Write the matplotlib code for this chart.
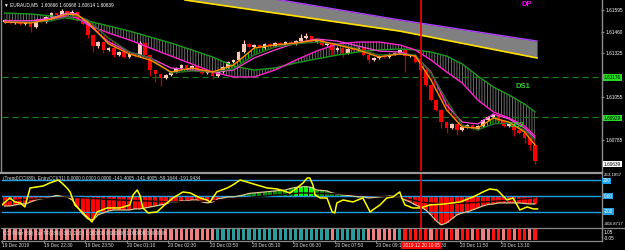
import numpy as np
import matplotlib
matplotlib.use('Agg')
import matplotlib.pyplot as plt
from matplotlib.lines import Line2D
import matplotlib.transforms as mtrans

plt.rcParams['font.family'] = ['Liberation Sans', 'DejaVu Sans']
plt.rcParams['hatch.linewidth'] = 0.6

# ---------------- data (prices in 1e-5 above 1.60000) ----------------
open_pts = [1520,1533,1514,1527,1508,1520,1489,1533,1520,1551,
            1576,1564,1589,1570,1582,1533,1508,1440,1371,1396,
            1347,1359,1315,1334,1303,1322,1309,1390,1315,1222,
            1197,1173,1191,1210,1235,1253,1235,1247,1222,1204,
            1216,1185,1210,1241,1272,1284,1334,1384,1365,1378,
            1359,1384,1371,1390,1384,1396,1384,1402,1421,1433,
            1396,1409,1378,1390,1347,1359,1328,1353,1347,1359,
            1315,1284,1297,1309,1303,1322,1328,1347,1309,1315,
            1272,1222,1129,1036,974,899,862,887,850,868,
            881,856,875,912,930,943,906,875,887,850,
            831,800,757]
close_pts = [1533,1514,1527,1508,1520,1489,1533,1520,1551,1576,
             1564,1589,1570,1582,1533,1508,1440,1371,1396,1347,
             1359,1315,1334,1303,1322,1309,1390,1315,1222,1197,
             1173,1191,1210,1235,1253,1235,1247,1222,1204,1216,
             1185,1210,1241,1272,1284,1334,1384,1365,1378,1359,
             1384,1371,1390,1384,1396,1384,1402,1421,1433,1396,
             1409,1378,1390,1347,1359,1328,1353,1347,1359,1315,
             1284,1297,1309,1303,1322,1328,1347,1309,1315,1272,
             1222,1129,1036,974,899,862,887,850,868,881,
             856,875,912,930,943,906,875,887,850,831,
             800,757,655]
high_pts = [1541,1540,1535,1534,1528,1526,1541,1540,1558,1583,
            1582,1601,1596,1595,1588,1540,1515,1446,1404,1402,
            1366,1365,1341,1340,1330,1328,1402,1396,1322,1229,
            1204,1198,1217,1242,1261,1259,1254,1253,1229,1223,
            1222,1217,1248,1279,1291,1341,1409,1391,1385,1384,
            1391,1390,1397,1396,1403,1402,1409,1446,1452,1439,
            1416,1415,1397,1396,1366,1365,1360,1359,1366,1365,
            1321,1304,1316,1315,1329,1335,1354,1353,1322,1321,
            1279,1228,1136,1043,981,906,894,893,875,888,
            887,882,919,937,950,949,913,894,893,857,
            838,806,763]
low_pts = [1512,1506,1507,1499,1500,1458,1482,1512,1513,1544,
           1556,1557,1562,1563,1525,1499,1421,1334,1362,1328,
           1340,1303,1308,1295,1296,1300,1302,1307,1185,1148,
           1123,1165,1183,1202,1228,1227,1228,1214,1196,1197,
           1166,1178,1202,1233,1264,1277,1327,1357,1358,1351,
           1352,1363,1364,1376,1377,1376,1377,1395,1414,1388,
           1389,1370,1371,1315,1340,1303,1321,1339,1340,1307,
           1266,1277,1290,1295,1296,1314,1321,1210,1301,1264,
           1214,1120,1027,965,862,831,855,819,842,860,
           848,849,867,905,922,898,867,868,812,823,
           769,726,639]

# indicator lines on the price chart (sampled at these bar indices)
line_x = [0,5,9,12,14,16,20,24,28,32,36,40,44,48,52,56,60,64,68,72,76,79,82,85,88,91,94,97,100,102]
slow_green = [1576,1570,1558,1545,1533,1527,1496,1464,1427,1390,1347,1303,1247,1222,1235,1266,1291,1315,1334,1347,1353,1347,1334,1309,1260,1185,1117,1067,1011,962]
slow_magenta = [1527,1527,1539,1558,1545,1502,1452,1409,1359,1309,1260,1210,1179,1179,1222,1284,1340,1384,1396,1396,1378,1347,1284,1210,1142,1036,962,924,875,812]
mid_magenta = [1527,1527,1545,1576,1570,1508,1396,1334,1297,1235,1222,1210,1222,1297,1347,1390,1415,1402,1371,1340,1334,1309,1210,1005,899,887,949,918,862,800]
fast_orange = [1520,1514,1539,1570,1564,1520,1384,1322,1284,1210,1235,1210,1253,1359,1378,1390,1409,1378,1347,1303,1322,1309,1160,974,868,862,924,899,837,757]
fast_green = [1520,1520,1527,1551,1558,1533,1421,1334,1297,1204,1216,1210,1229,1315,1365,1384,1396,1384,1353,1315,1322,1315,1204,1036,881,850,887,893,850,788]

band_x = [34.7, 76.0, 102.4]
band_top = [1756, 1533, 1402]
band_bottom = [1657, 1464, 1297]

level_ds1 = 1.61176
level_ds2 = 1.60929
bid_price = 1.60639
crosshair_bar = 80.1

# CCI indicator
cci_hist = [-129,-129,-116,-104,-104,-79,-54,-41,-29,-16,
            3,-10,-16,-54,-141,-229,-291,-304,-241,-216,
            -191,-179,-179,-179,-179,-166,-166,-154,-141,-129,
            -116,-104,-79,-79,-66,-66,-54,-54,-79,-91,
            -79,-41,-29,-16,-16,-4,9,28,34,40,
            46,53,59,65,71,90,103,109,113,103,
            71,65,59,34,21,9,3,-4,-16,-16,
            -29,-23,-16,-10,-4,-10,-16,-54,-79,-116,
            -141,-179,-241,-316,-366,-341,-291,-241,-216,-204,
            -179,-154,-129,-110,-104,-91,-91,-91,-91,-91,
            -98,-104,-104]
entry_x = [-0.5,0.1,1.0,2.0,3.0,3.9,4.9,7.4,8.7,10.3,11.0,12.0,12.6,13.5,14.9,16.8,17.8,19.7,22.2,24.1,
           24.7,25.5,26.0,26.6,27.6,29.3,31.2,32.4,34.3,35.7,37.6,38.9,39.5,40.8,42.8,43.9,45.3,46.6,48.5,50.5,
           52.4,54.3,54.9,56.2,57.4,58.2,58.7,59.3,59.7,60.7,62.0,63.0,63.5,63.9,65.1,67.0,68.9,70.3,70.8,72.2,
           73.5,74.7,76.0,76.4,77.0,78.5,79.9,81.8,84.7,87.6,90.1,92.0,93.3,94.7,95.3,96.6,97.8,99.1,100.5,101.7,102.5]
entry_cci = [-116,-79,-29,-79,-91,-141,96,121,159,196,159,96,46,-116,-204,-329,-204,-154,-154,-116,
             9,71,9,-154,-216,-204,-91,-29,46,34,-29,-54,-79,46,96,134,196,171,134,96,
             84,46,34,96,159,221,221,134,9,-29,-29,-204,-216,-91,-54,-79,-29,-204,-179,-116,
             -29,-16,46,-29,-116,-154,-154,-116,-104,-79,-16,46,84,71,34,-54,-29,-179,-141,-166,-166]
signal_x = [0,12,22,32,40,48,57,65,72,76,80,84,89,95,102]
signal_cci = [-66,-16,-54,-79,-66,-16,34,21,-4,-16,-79,-104,-91,-66,-29]
cci_levels = [200, 0, -200]

# CCI filter strip: 0 = salmon, 1 = teal, 2 = red
filter_state = [0]*41 + [1]*22 + [0] + [1]*6 + [0]*6 + [1] + [2]*4 + \
               [2,0,2,2,0,2,0,2,2,0,2,0,0,2,2,0,2,0,2,2,0,2]

time_labels = ["19 Dec 2019", "19 Dec 22:30", "19 Dec 23:50", "20 Dec 01:10", "20 Dec 02:30",
               "20 Dec 03:50", "20 Dec 05:10", "20 Dec 06:30", "20 Dec 07:50", "20 Dec 09:10",
               "20 Dec 10:30", "20 Dec 11:50", "20 Dec 13:10"]
time_label_bars = [0, 8, 16, 24, 32, 40, 48, 56, 64, 72, 80, 88, 96]
price_ticks = [1.61595, 1.61460, 1.61325, 1.61055, 1.60785]


def to_price(v):
    return 1.6 + np.asarray(v, dtype=float) * 1e-5


W, H = 625, 250
fig = plt.figure(figsize=(W / 100, H / 100), dpi=100, facecolor='black')
FS = 3.4
GRAY = '#8a8a8a'


def add_ax(x0, y0, x1, y1):
    a = fig.add_axes([x0 / W, 1 - y1 / H, (x1 - x0) / W, (y1 - y0) / H])
    a.set_facecolor('black')
    for s in a.spines.values():
        s.set_visible(False)
    a.set_xticks([])
    a.set_yticks([])
    return a


def ftext(x, y, s, **kw):
    kw.setdefault('fontsize', FS)
    kw.setdefault('color', 'white')
    kw.setdefault('va', 'center')
    kw.setdefault('ha', 'left')
    return fig.text(x / W, 1 - y / H, s, **kw)


XL = (-0.5, 114.7)

# ---------------- main price panel ----------------
ax = add_ax(2, 0, 601, 171)
ax.set_xlim(XL)
ax.set_ylim(1.60595, 1.61657)

lx = np.array(line_x, dtype=float)
sg, sm = to_price(slow_green), to_price(slow_magenta)
fo, fg = to_price(fast_orange), to_price(fast_green)

# DP band
bx = np.array(band_x)
ax.fill_between(bx, to_price(band_bottom), to_price(band_top), color='#808080', lw=0, zorder=1)
ax.plot(bx, to_price(band_top), color='#b040ff', lw=1.0, zorder=2)
ax.plot(bx, to_price(band_bottom), color='#ffe000', lw=1.2, zorder=2)

# hatched cloud
ax.fill_between(lx, sg, sm, facecolor='none', edgecolor='#7c7c7c', hatch='||||||', lw=0, zorder=1)
ax.fill_between(lx, fo, fg, where=fo >= fg, interpolate=True, facecolor='none',
                edgecolor='#00ff00', hatch='||||||', lw=0, zorder=1.5)
ax.fill_between(lx, fo, fg, where=fo < fg, interpolate=True, facecolor='none',
                edgecolor='#ff0000', hatch='||||||', lw=0, zorder=1.5)

# dashed levels
for lv in (level_ds1, level_ds2):
    ax.axhline(lv, color='#1d7a1d', lw=0.9, ls=(0, (5, 3)), zorder=1)

# candles
idx = np.arange(len(close_pts))
o, c = to_price(open_pts), to_price(close_pts)
hi, lo = to_price(high_pts), to_price(low_pts)
bull = c > o
BULL, BEAR = '#ffcbb8', '#ff0000'
ax.vlines(idx[bull], lo[bull], hi[bull], color=BULL, lw=0.9, zorder=3)
ax.vlines(idx[~bull], lo[~bull], hi[~bull], color='#c80000', lw=0.9, zorder=3)
ax.bar(idx, np.maximum(np.abs(c - o), 4e-5), bottom=np.minimum(o, c), width=0.72,
       color=np.where(bull, BULL, BEAR), lw=0, zorder=4)

# MA lines
ax.plot(lx, sg, color='#1a9a1a', lw=1.0, zorder=5)
ax.plot(lx, sm, color='#ff22cc', lw=1.0, zorder=5)
ax.plot(lx, to_price(mid_magenta), color='#ff44dd', lw=0.9, zorder=5)
ax.plot(lx, fg, color='#2e6b2e', lw=1.0, zorder=5)
ax.plot(lx, fo, color='#ff8c00', lw=1.0, zorder=5)

ax.axvline(crosshair_bar, color='#ff0000', lw=1.2, zorder=6)

# right axis
ax.yaxis.tick_right()
ax.set_yticks(price_ticks)
ax.set_yticklabels([f"{t:.5f}" for t in price_ticks])
ax.tick_params(axis='y', length=2, color=GRAY, labelcolor='white', labelsize=FS, pad=1.5)

ax.text(0.004, 0.985, "\u25bc EURAUD,M5  1.60666 1.60668 1.60614 1.60639", transform=ax.transAxes,
        color='white', fontsize=FS, va='top', ha='left')
ax.text(100.5, 1.61626, "DP", color='#ff00ff', fontsize=5.5, fontweight='bold', ha='center', va='center', zorder=7)
ax.text(99.6, 1.61120, "DS1", color='#33cc33', fontsize=5.5, fontweight='bold', ha='center', va='center', zorder=7)
ax.text(98.6, 1.60880, "DS2", color='#33cc33', fontsize=5.5, fontweight='bold', ha='center', va='center', zorder=7)

# right-side price boxes
ftext(604, 77.5, f"{level_ds1:.5f}", color='black',
      bbox=dict(boxstyle='square,pad=0.15', fc='#22dd22', ec='none'), zorder=10)
ftext(604, 118.2, f"{level_ds2:.5f}", color='black',
      bbox=dict(boxstyle='square,pad=0.15', fc='#22dd22', ec='none'), zorder=10)
ftext(604, 164, f"{bid_price:.5f}", color='black',
      bbox=dict(boxstyle='square,pad=0.15', fc='white', ec='none'), zorder=10)

# ---------------- CCI panel ----------------
ax2 = add_ax(2, 174, 601, 228)
ax2.set_xlim(XL)
ax2.set_ylim(-404.87, 271)
hv = np.array(cci_hist)
hcol = np.where(hv >= 100, '#00ff00', np.where(hv >= 0, '#008a00', '#ff0000'))
ax2.bar(idx, hv, width=0.8, color=hcol, lw=0, zorder=1)
ax2.plot(idx, hv, color='#d8c890', lw=0.9, zorder=3)
for lv in cci_levels:
    ax2.axhline(lv, color='#1ea0e6', lw=1.0, zorder=2)
ax2.plot(signal_x, signal_cci, color='#1a0000', lw=1.0, zorder=3)
ax2.plot(entry_x, entry_cci, color='#ffff00', lw=1.1, zorder=4)
ax2.axvline(crosshair_bar, color='#ff0000', lw=1.2, zorder=6)

ftext(3, 178.5, "(Trend)CCI(89), EntryCCI(31) 0.0000 0.0000 0.0000 -141.4005 -141.4005 -59.1644 -191.9434",
      color='#d8d8d8', zorder=10)
ftext(604, 175.3, "263.1857", fontsize=3.2, zorder=10)
ftext(603, 181, "200", color='white', bbox=dict(boxstyle='square,pad=0.12', fc='#1ea0e6', ec='none'), zorder=11)
ftext(604, 196, "0.00", color='white', bbox=dict(boxstyle='square,pad=0.12', fc='#1ea0e6', ec='none'), zorder=11)
ftext(604, 211.5, "-200", color='white', bbox=dict(boxstyle='square,pad=0.12', fc='#1ea0e6', ec='none'), zorder=11)
ftext(604, 224, "-404.8717", fontsize=3.2, zorder=10)

# ---------------- filter strip ----------------
ax3 = add_ax(2, 229, 601, 240)
ax3.set_xlim(XL)
ax3.set_ylim(-0.05, 1.05)
fcolors = ['#f08080', '#2a9c9c', '#ff1414']
ax3.bar(idx, 1.1, bottom=-0.05, width=0.6, color=[fcolors[k] for k in filter_state], lw=0, zorder=1)
ax3.axvline(crosshair_bar, color='#ff0000', lw=1.2, zorder=2)
ftext(3, 233, "CCI Filter (89) Cur TF(288) -300, 200 | 1.000000 0.000000 1.000000 0.000000",
      color='#e0e0e0', zorder=10)
ftext(604, 232, "1.05", zorder=10)
ftext(604, 239, "-0.05", zorder=10)

# time axis
tx = [b - 0.5 for b in time_label_bars]
ax3.set_xticks(tx)
ax3.set_xticklabels([])
ax3.tick_params(axis='x', length=2, color=GRAY, direction='out')
blend = mtrans.blended_transform_factory(ax3.transData, fig.transFigure)
for xb, lab in zip(tx, time_labels):
    ax3.text(xb, 1 - 245.5 / H, lab, transform=blend, color='#dcdcdc', fontsize=FS,
             ha='left', va='center', clip_on=False, zorder=5)
ax3.text(crosshair_bar, 1 - 245.5 / H, "2019.12.20 10:05", transform=blend, color='white', fontsize=FS,
         ha='center', va='center', clip_on=False, zorder=8,
         bbox=dict(boxstyle='square,pad=0.25', fc='#ff0000', ec='none'))

# frame / separators
def fline(x0, y0, x1, y1, lw=1.0, color=GRAY):
    fig.add_artist(Line2D([x0 / W, x1 / W], [1 - y0 / H, 1 - y1 / H], color=color, lw=lw))

fline(1, 0, 1, 171, lw=1.0)
fline(601.5, 0, 601.5, 241, lw=1.0)
fline(1, 172.8, 601.5, 172.8, lw=1.6, color='#9a9a9a')
fline(1, 228.3, 625, 228.3, lw=0.9)
fline(1, 240.8, 601.5, 240.8, lw=0.9)

fig.savefig('out.png', dpi=100, facecolor='black')
